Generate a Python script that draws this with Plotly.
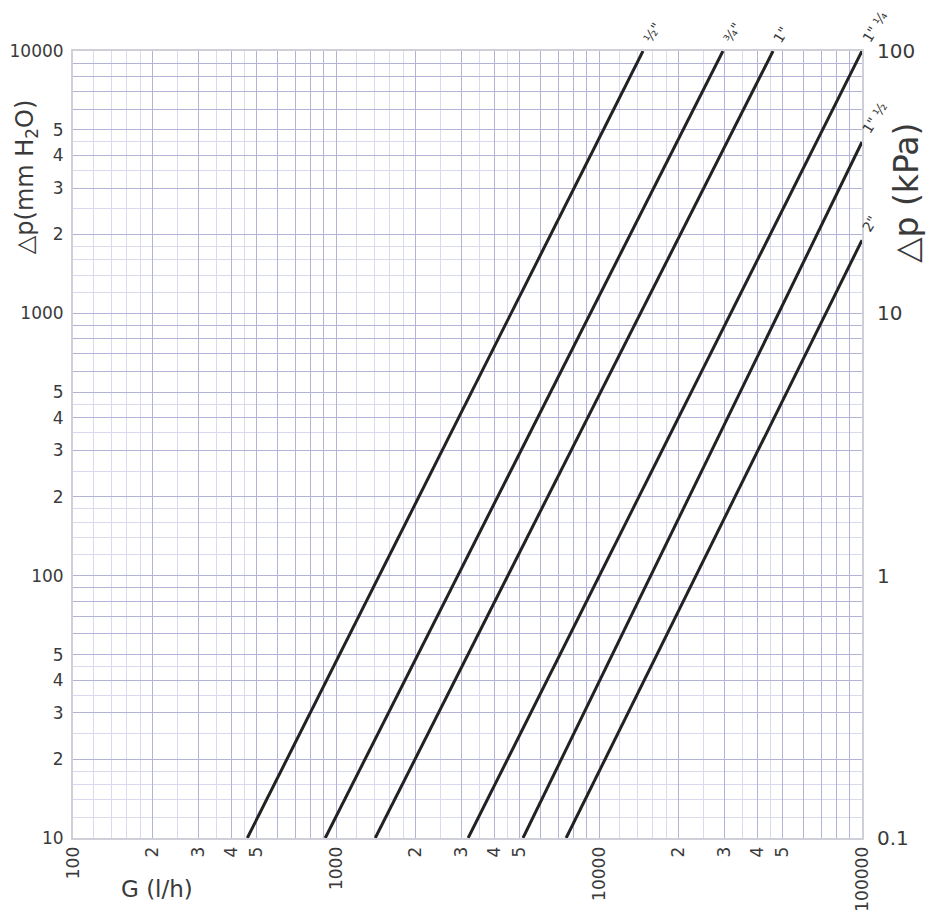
import math

import plotly.graph_objects as go

# pipe sizes and the straight lines (two ends each)
sizes = ['½"', '¾"', '1"', '1" ¼', '1" ½', '2"']
g_start = [460, 910, 1410, 3180, 5140, 7500]          # l/h at 10 mm H2O
dp_start = [10, 10, 10, 10, 10, 10]
g_end = [14700, 29600, 45900, 100000, 100000, 100000]  # l/h at top/right edge
dp_end = [10000, 10000, 10000, 10000, 4500, 1900]      # mm H2O

# axis ticks
x_major = [m * 10 ** e for e in (2, 3, 4) for m in range(1, 10)] + [100000]
x_text = []
for v in x_major:
    m = int(str(v)[0])
    if v in (100, 1000, 10000, 100000):
        x_text.append(str(v))
    elif m <= 5:
        x_text.append(str(m))
    else:
        x_text.append("")
y_major = [m * 10 ** e for e in (1, 2, 3) for m in range(1, 10)] + [10000]
y_text = []
for v in y_major:
    m = int(str(v)[0])
    if v in (10, 100, 1000, 10000):
        y_text.append(str(v))
    elif m <= 5:
        y_text.append(str(m))
    else:
        y_text.append("")
minor_steps = [1.2, 1.4, 1.6, 1.8, 2.5, 3.5, 4.5]
x_minor = [s * 10 ** e for e in (2, 3, 4) for s in minor_steps]
y_minor = [s * 10 ** e for e in (1, 2, 3) for s in minor_steps]
kpa_ticks = [0.1, 1, 10, 100]

FONT = "DejaVu Sans"
TXT = "#3a3a3a"
GRID = "#b3b3d8"
GRID_MINOR = "#dadaee"

fig = go.Figure()

for name, x0, y0, x1, y1 in zip(sizes, g_start, dp_start, g_end, dp_end):
    fig.add_trace(
        go.Scatter(
            x=[x0, x1],
            y=[y0, y1],
            mode="lines",
            name=name,
            line=dict(color="#222222", width=3),
            showlegend=False,
        )
    )
    # size label at the upper end of each line (log axes take log10 positions)
    fig.add_annotation(
        x=math.log10(x1), y=math.log10(y1), xref="x", yref="y",
        text=name, showarrow=False, textangle=-58,
        xanchor="left", yanchor="bottom", xshift=-6, yshift=3,
        font=dict(family=FONT, size=14, color=TXT),
    )

# empty trace so the kPa axis on the right is drawn
fig.add_trace(go.Scatter(x=[None], y=[None], yaxis="y2", showlegend=False,
                         hoverinfo="skip"))

fig.update_layout(
    width=927,
    height=912,
    margin=dict(l=65, r=73, t=43, b=82),
    paper_bgcolor="white",
    plot_bgcolor="white",
    font=dict(family=FONT, size=17, color=TXT),
    xaxis=dict(
        type="log",
        range=[2, 5],
        automargin=False,
        tickmode="array",
        tickvals=x_major,
        ticktext=x_text,
        tickangle=-90,
        ticks="",
        showgrid=True,
        gridcolor=GRID,
        gridwidth=1,
        minor=dict(tickmode="array", tickvals=x_minor, showgrid=True,
                   gridcolor=GRID_MINOR, gridwidth=1, ticks=""),
        showline=True,
        linecolor="#cfcfd8",
        linewidth=2,
        mirror=True,
        zeroline=False,
        tickfont=dict(size=17),
    ),
    yaxis=dict(
        type="log",
        range=[1, 4],
        automargin=False,
        tickmode="array",
        tickvals=y_major,
        ticktext=y_text,
        ticks="",
        showgrid=True,
        gridcolor=GRID,
        gridwidth=1,
        minor=dict(tickmode="array", tickvals=y_minor, showgrid=True,
                   gridcolor=GRID_MINOR, gridwidth=1, ticks=""),
        showline=True,
        linecolor="#cfcfd8",
        linewidth=2,
        mirror=True,
        zeroline=False,
        tickfont=dict(size=17),
        ticklabelstandoff=4,
    ),
    yaxis2=dict(
        type="log",
        range=[-1, 2],
        automargin=False,
        overlaying="y",
        side="right",
        anchor="x",
        tickmode="array",
        tickvals=kpa_ticks,
        ticktext=["0.1", "1", "10", "100"],
        ticks="",
        showgrid=False,
        zeroline=False,
        showline=False,
        tickfont=dict(size=20),
        ticklabelstandoff=14,
    ),
)

# axis titles
fig.add_annotation(
    x=-0.058, y=0.84, xref="paper", yref="paper",
    text="△p(mm H<sub>2</sub>O)", showarrow=False, textangle=-90,
    xanchor="center", yanchor="middle",
    font=dict(family=FONT, size=24, color=TXT),
)
fig.add_annotation(
    x=1.056, y=0.82, xref="paper", yref="paper",
    text="△p (kPa)", showarrow=False, textangle=-90,
    xanchor="center", yanchor="middle",
    font=dict(family=FONT, size=33, color=TXT),
)
fig.add_annotation(
    x=0.106, y=-0.065, xref="paper", yref="paper",
    text="G (l/h)", showarrow=False,
    xanchor="center", yanchor="middle",
    font=dict(family=FONT, size=23, color=TXT),
)

fig.write_html("out.html")
